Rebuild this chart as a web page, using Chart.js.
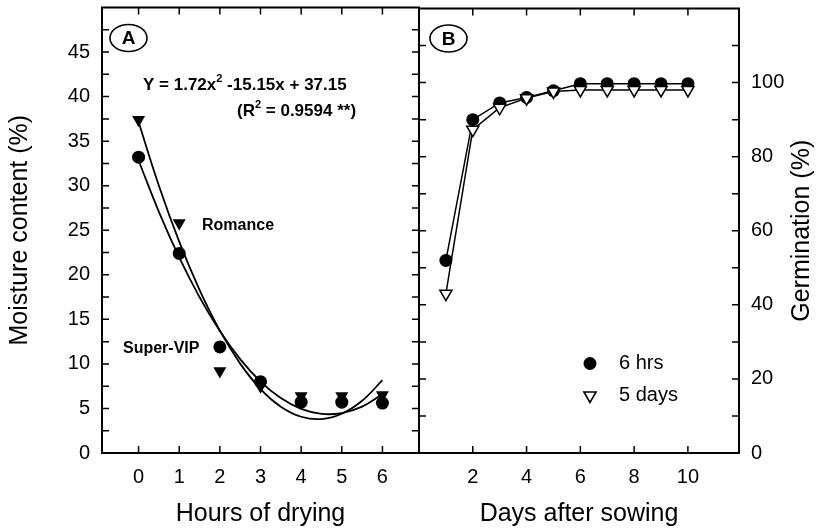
<!DOCTYPE html>
<html><head><meta charset="utf-8">
<script src="https://cdn.jsdelivr.net/npm/chart.js@4.4.0/dist/chart.umd.min.js"></script>
<style>
html,body{margin:0;padding:0;background:#fff;}
#wrap{position:relative;width:817px;height:529px;background:#fff;}
canvas{position:absolute;left:0;top:0;}
</style></head><body>
<div id="wrap"><canvas id="cA" width="817" height="529"></canvas><canvas id="cB" width="817" height="529"></canvas></div>
<script>
// ---------- data ----------
const hours = [0, 1, 2, 3, 4, 5, 6];
const superVIP = [33.2, 22.4, 11.9, 8.0, 5.7, 5.7, 5.6];
const romance = [37.4, 25.8, 9.2, 7.5, 6.4, 6.4, 6.5];
const fitHours = [0, 0.5, 1, 1.5, 2, 2.5, 3, 3.5, 4, 4.5, 5, 5.5, 6];
const romanceFit = [37.15, 30.0, 23.72, 18.3, 13.73, 10.03, 7.18, 5.2, 4.07, 3.81, 4.4, 5.86, 8.17];
const superVIPFit = [32.83, 27.07, 21.96, 17.5, 13.69, 10.53, 8.02, 6.16, 4.95, 4.39, 4.48, 5.21, 6.6];

const days = [1, 2, 3, 4, 5, 6, 7, 8, 9, 10];
const germ6hrs = [52, 90, 94.5, 96, 97.8, 99.7, 99.7, 99.7, 99.7, 99.7];
const germ5days = [43, 87.3, 93.2, 95.8, 97.6, 98, 98, 98, 98, 98];

const hourTicks = [0, 1, 2, 3, 4, 5, 6];
const moistureTicks = [0, 5, 10, 15, 20, 25, 30, 35, 40, 45];
const moistureMarks = [2.5, 5, 7.5, 10, 12.5, 15, 17.5, 20, 22.5, 25, 27.5, 30, 32.5, 35, 37.5, 40, 42.5, 45, 47.5];
const dayTicks = [2, 4, 6, 8, 10];
const germTicks = [0, 20, 40, 60, 80, 100];
const germMarks = [10, 20, 30, 40, 50, 60, 70, 80, 90, 100, 110];

const FONT = '"Liberation Sans", Arial, Helvetica, sans-serif';
Chart.defaults.font.family = FONT;
Chart.defaults.color = '#000';

const pts = (xs, ys) => xs.map((x, i) => ({x, y: ys[i]}));

// ---------- decoration plugin ----------
const deco = {
  id: 'deco',
  afterDraw(chart, args, o) {
    const ctx = chart.ctx, a = chart.chartArea;
    const xs = chart.scales.x, ys = chart.scales.y;
    const L = 7;
    ctx.save();
    ctx.strokeStyle = '#000'; ctx.fillStyle = '#000';
    ctx.lineWidth = 2;
    ctx.strokeRect(a.left, a.top, a.right - a.left, a.bottom - a.top);
    ctx.lineWidth = 1.5;
    ctx.beginPath();
    o.xMarks.forEach(v => {
      const p = xs.getPixelForValue(v);
      ctx.moveTo(p, a.bottom); ctx.lineTo(p, a.bottom - L);
      ctx.moveTo(p, a.top); ctx.lineTo(p, a.top + L);
    });
    o.yMarks.forEach(v => {
      const p = ys.getPixelForValue(v);
      ctx.moveTo(a.left, p); ctx.lineTo(a.left + L, p);
      ctx.moveTo(a.right, p); ctx.lineTo(a.right - L, p);
    });
    ctx.stroke();

    // panel label
    if (o.panel) {
      const cx = a.left + o.panel.dx, cy = a.top + o.panel.dy;
      ctx.lineWidth = 1.6;
      ctx.beginPath();
      ctx.ellipse(cx, cy, 18.5, 13.5, 0, 0, Math.PI * 2);
      ctx.stroke();
      ctx.font = 'bold 19px ' + FONT;
      ctx.textAlign = 'center'; ctx.textBaseline = 'middle';
      ctx.fillText(o.panel.text, cx, cy + 1);
    }

    // rich texts
    (o.texts || []).forEach(t => {
      let x = a.left + t.dx;
      const y = a.top + t.dy;
      ctx.textAlign = 'left';
      ctx.textBaseline = t.baseline || 'alphabetic';
      t.parts.forEach(p => {
        const size = p.sup ? Math.round(t.size * 0.62) : t.size;
        ctx.font = 'bold ' + size + 'px ' + FONT;
        ctx.fillText(p.t, x, p.sup ? y - t.size * 0.42 : y);
        x += ctx.measureText(p.t).width;
      });
    });

    // legend
    if (o.legend) {
      chart.data.datasets.forEach((ds, i) => {
        const row = o.legend.order.indexOf(i);
        if (row < 0) return;
        const x = a.left + o.legend.dx, y = a.top + o.legend.dy + row * o.legend.gap;
        ctx.fillStyle = ds.pointBackgroundColor;
        ctx.strokeStyle = ds.pointBorderColor || '#000';
        Chart.helpers.drawPoint(ctx, {
          pointStyle: ds.pointStyle, rotation: ds.pointRotation || 0,
          radius: ds.pointRadius, borderWidth: ds.pointBorderWidth || 0
        }, x, y);
        ctx.fillStyle = '#000';
        ctx.font = '20px ' + FONT;
        ctx.textAlign = 'left'; ctx.textBaseline = 'middle';
        ctx.fillText(ds.label, x + o.legend.textGap, y);
      });
    }

    // right-side title reading bottom-to-top
    if (o.rightTitle) {
      ctx.save();
      ctx.translate(chart.width - 15, (a.top + a.bottom) / 2);
      ctx.rotate(-Math.PI / 2);
      ctx.font = '25px ' + FONT;
      ctx.fillStyle = '#000';
      ctx.textAlign = 'center'; ctx.textBaseline = 'middle';
      ctx.fillText(o.rightTitle, 0, 0);
      ctx.restore();
    }
    ctx.restore();
  }
};

const tickFont = {size: 20};
const titleFont = {size: 25};
const fitX = s => { s.height = 76; s.paddingLeft = 0; s.paddingRight = 0; };
const fitY = w => s => { s.width = w; s.paddingTop = 0; s.paddingBottom = 0; };

// ---------- panel A ----------
new Chart(document.getElementById('cA'), {
  type: 'scatter',
  data: {
    datasets: [
      {label: 'Super-VIP', data: pts(hours, superVIP), pointStyle: 'circle', pointRadius: 6.5,
       pointBackgroundColor: '#000', pointBorderWidth: 0, showLine: false},
      {label: 'Romance', data: pts(hours, romance), pointStyle: 'triangle', pointRotation: 180, pointRadius: 7.5,
       pointBackgroundColor: '#000', pointBorderWidth: 0, showLine: false},
      {label: 'Romance fit', data: pts(fitHours, romanceFit), showLine: true, pointRadius: 0,
       borderColor: '#000', borderWidth: 1.8, tension: 0.4},
      {label: 'Super-VIP fit', data: pts(fitHours, superVIPFit), showLine: true, pointRadius: 0,
       borderColor: '#000', borderWidth: 1.8, tension: 0.4}
    ]
  },
  options: {
    responsive: false, animation: false, events: [],
    layout: {padding: {left: 0, top: 7, right: 398, bottom: 0}},
    plugins: {
      legend: {display: false}, tooltip: {enabled: false},
      deco: {
        xMarks: hourTicks, yMarks: moistureMarks,
        panel: {text: 'A', dx: 26.5, dy: 30.5},
        texts: [
          {dx: 41, dy: 82, size: 17, parts: [{t: 'Y = 1.72x'}, {t: '2', sup: true}, {t: ' -15.15x + 37.15'}]},
          {dx: 135, dy: 108, size: 17, parts: [{t: '(R'}, {t: '2', sup: true}, {t: ' = 0.9594 **)'}]},
          {dx: 100, dy: 218, size: 16, baseline: 'middle', parts: [{t: 'Romance'}]},
          {dx: 21, dy: 341, size: 16, baseline: 'middle', parts: [{t: 'Super-VIP'}]}
        ]
      }
    },
    scales: {
      x: {type: 'linear', position: 'bottom', min: -0.9, max: 6.9,
        afterBuildTicks: s => { s.ticks = hourTicks.map(v => ({value: v})); },
        afterFit: fitX,
        grid: {display: false, drawTicks: false}, border: {display: false},
        ticks: {font: tickFont, color: '#000', padding: 12, maxRotation: 0, autoSkip: false},
        title: {display: true, text: 'Hours of drying', font: titleFont, color: '#000', padding: {top: 0, bottom: 0}}
      },
      y: {type: 'linear', position: 'left', min: 0, max: 50,
        afterBuildTicks: s => { s.ticks = moistureTicks.map(v => ({value: v})); },
        afterFit: fitY(102),
        grid: {display: false, drawTicks: false}, border: {display: false},
        ticks: {font: tickFont, color: '#000', padding: 12, autoSkip: false},
        title: {display: true, text: 'Moisture content (%)', font: titleFont, color: '#000', padding: {top: 5, bottom: 0}}
      }
    }
  },
  plugins: [deco]
});

// ---------- panel B ----------
new Chart(document.getElementById('cB'), {
  type: 'scatter',
  data: {
    datasets: [
      {label: '5 days', data: pts(days, germ5days), showLine: true, borderColor: '#000', borderWidth: 1.5,
       pointStyle: 'triangle', pointRotation: 180, pointRadius: 7, pointBackgroundColor: '#fff',
       pointBorderColor: '#000', pointBorderWidth: 1.5, tension: 0},
      {label: '6 hrs', data: pts(days, germ6hrs), showLine: true, borderColor: '#000', borderWidth: 1.5,
       pointStyle: 'circle', pointRadius: 6.5, pointBackgroundColor: '#000',
       pointBorderColor: '#000', pointBorderWidth: 0, tension: 0}
    ]
  },
  options: {
    responsive: false, animation: false, events: [],
    layout: {padding: {left: 419, top: 7, right: 0, bottom: 0}},
    plugins: {
      legend: {display: false}, tooltip: {enabled: false},
      deco: {
        xMarks: dayTicks, yMarks: germMarks,
        panel: {text: 'B', dx: 29.5, dy: 30},
        legend: {dx: 171, dy: 355, gap: 32, textGap: 29, order: [1, 0]},
        rightTitle: 'Germination (%)'
      }
    },
    scales: {
      x: {type: 'linear', position: 'bottom', min: 0, max: 11.9,
        afterBuildTicks: s => { s.ticks = dayTicks.map(v => ({value: v})); },
        afterFit: fitX,
        grid: {display: false, drawTicks: false}, border: {display: false},
        ticks: {font: tickFont, color: '#000', padding: 12, maxRotation: 0, autoSkip: false},
        title: {display: true, text: 'Days after sowing', font: titleFont, color: '#000', padding: {top: 0, bottom: 0}}
      },
      y: {type: 'linear', position: 'right', min: 0, max: 120,
        afterBuildTicks: s => { s.ticks = germTicks.map(v => ({value: v})); },
        afterFit: fitY(78),
        grid: {display: false, drawTicks: false}, border: {display: false},
        ticks: {font: tickFont, color: '#000', padding: 12, autoSkip: false},
        title: {display: false}
      }
    }
  },
  plugins: [deco]
});
</script>
</body></html>
